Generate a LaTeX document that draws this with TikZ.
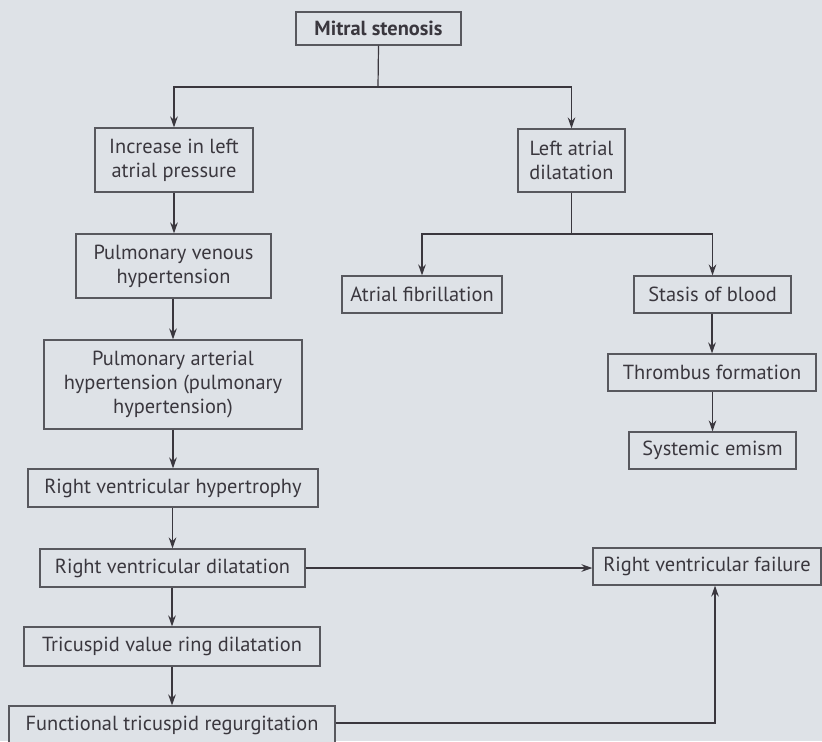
\documentclass[tikz,border=0pt]{standalone}
\usepackage{fontspec}
\setmainfont{PT Sans}
\usetikzlibrary{arrows.meta}
\definecolor{paperblue}{RGB}{222,226,231}
\definecolor{inkgray}{RGB}{58,55,62}
\definecolor{framegray}{RGB}{88,88,94}
\tikzset{
  flowbox/.style 2 args={draw=framegray,line width=0.6pt,fill=paperblue,
    text=inkgray,align=center,inner sep=0pt,
    font=\fontsize{10.2}{12}\selectfont,
    minimum width=#1*0.5pt,minimum height=#2*0.5pt},
  flowline/.style={draw=inkgray,line width=0.6pt},
  flowarrow/.style={flowline,-{Stealth[length=5.5pt,width=3.8pt]}}
}

\begin{document}
\begin{tikzpicture}[x=0.5pt,y=-0.5pt]
  \useasboundingbox[fill=paperblue] (0,0) rectangle (822,741);

  % top of the chart
  \node[flowbox={165}{33}] (ms) at (378.5,28.5) {\textbf{Mitral stenosis}};
  \node[flowbox={158}{64}] (lap) at (174,160) {Increase in left\\atrial pressure};
  \node[flowbox={107}{63}] (lad) at (571.5,160.5) {Left atrial\\dilatation};

  % left column
  \node[flowbox={195}{64}] (pvh) at (173.5,266) {Pulmonary venous\\hypertension};
  \node[flowbox={258}{89}] (pah) at (173,384.5) {Pulmonary arterial\\hypertension (pulmonary\\hypertension)};
  \node[flowbox={290}{38}] (rvh) at (173,488) {Right ventricular hypertrophy};
  \node[flowbox={265}{38}] (rvd) at (172.5,568) {Right ventricular dilatation};
  \node[flowbox={296}{39}] (tvr) at (172,646.5) {Tricuspid value ring dilatation};
  \node[flowbox={326}{38}] (ftr) at (172,725) {Functional tricuspid regurgitation};

  % right column
  \node[flowbox={160}{37}] (af) at (422,294.5) {Atrial fibrillation};
  \node[flowbox={157}{37}] (sob) at (712.5,294.5) {Stasis of blood};
  \node[flowbox={208}{37}] (tf) at (712,372.5) {Thrombus formation};
  \node[flowbox={167}{37}] (se) at (712.5,450.5) {Systemic emism};
  \node[flowbox={228}{37}] (rvf) at (707,566.5) {Right ventricular failure};

  % branches
  \coordinate (split1) at (378,87);
  \draw[flowline] (ms.south) -- (split1);
  \draw[flowarrow] (split1) -| (lap.north);
  \draw[flowarrow] (split1) -| (lad.north);
  \coordinate (split2) at (571.5,234);
  \draw[flowline] (lad.south) -- (split2);
  \draw[flowarrow] (split2) -| (af.north);
  \draw[flowarrow] (split2) -| (sob.north);

  % chains
  \draw[flowarrow] (lap.south) -- (lap.south |- pvh.north);
  \foreach \a/\b in {pvh/pah,pah/rvh,rvh/rvd,rvd/tvr,tvr/ftr,sob/tf,tf/se}
    \draw[flowarrow] (\b.north |- \a.south) -- (\b.north);

  % to right ventricular failure
  \draw[flowarrow] (rvd.east) -- (rvd.east -| rvf.west);
  \coordinate (bend) at (715,723);
  \draw[flowarrow] (ftr.east |- bend) -- (bend) -- (bend |- rvf.south);
\end{tikzpicture}
\end{document}
